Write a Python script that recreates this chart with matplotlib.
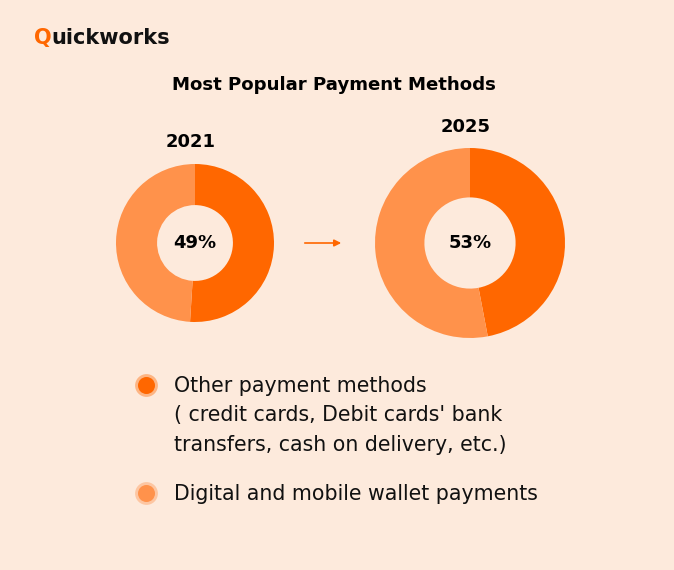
import matplotlib.pyplot as plt

years = ['2021', '2025']
other_share = [51, 47]
wallet_share = [49, 53]
center_labels = ['49%', '53%']
legend_labels = ["Other payment methods\n( credit cards, Debit cards' bank\ntransfers, cash on delivery, etc.)",
                 'Digital and mobile wallet payments']

BG = '#FDEADC'
DARK = '#FF6700'
LIGHT = '#FF924B'
H = 570

plt.rcParams['font.family'] = ['DejaVu Sans']

fig = plt.figure(figsize=(6.74, 5.7), dpi=100, facecolor=BG)
ax = fig.add_axes([0, 0, 1, 1])
ax.set_xlim(0, 674)
ax.set_ylim(0, H)
ax.set_aspect('equal')
ax.axis('off')

# donuts: (center x, center y in px from top, outer radius, year label y)
layout = [(195, 243, 79, 142), (470, 243, 95, 127)]
for i, (cx, cy, r, ty) in enumerate(layout):
    ax.pie([other_share[i], wallet_share[i]], colors=[DARK, LIGHT],
           startangle=90, counterclock=False, center=(cx, H - cy), radius=r,
           wedgeprops=dict(width=r * 0.52, linewidth=0))
    ax.text(cx, H - cy, center_labels[i], ha='center', va='center',
            fontsize=13, fontweight='bold', color='black')
    ax.text(cx - 4, H - ty, years[i], ha='center', va='center',
            fontsize=13, fontweight='bold', color='black')
ax.set_xlim(0, 674)
ax.set_ylim(0, H)

# arrow between the donuts
ax.annotate('', xy=(344, H - 243), xytext=(302, H - 243),
            arrowprops=dict(arrowstyle='-|>', color=DARK, lw=1.2,
                            mutation_scale=10))

# logo and title
q = ax.text(34, H - 38, 'Q', ha='left', va='center', fontsize=15,
            fontweight='bold', color=DARK)
ax.annotate('uickworks', xy=(1, 0.5), xycoords=q, ha='left', va='center',
            fontsize=15, fontweight='bold', color='#111111')
ax.text(334, H - 85, 'Most Popular Payment Methods', ha='center',
        va='center', fontsize=13.1, fontweight='bold', color='black')

# legend
for y, col, lab in [(385, DARK, legend_labels[0]), (493, LIGHT, legend_labels[1])]:
    ax.scatter([146], [H - y], s=270, color=col, alpha=0.4, linewidths=0)
    ax.scatter([146], [H - y], s=150, color=col, linewidths=0)
    ax.text(174, H - y + 9, lab, ha='left', va='top', fontsize=14.8,
            color='#111111', linespacing=1.58)

fig.savefig('out.png', dpi=100, facecolor=BG)
